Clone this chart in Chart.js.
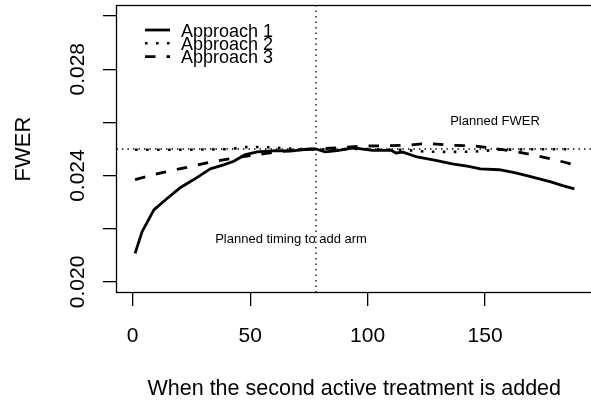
<!DOCTYPE html>
<html>
<head>
<meta charset="utf-8">
<script src="https://cdn.jsdelivr.net/npm/chart.js@4.4.1/dist/chart.umd.min.js"></script>
<style>
  html, body { margin: 0; padding: 0; background: #fff; overflow: hidden; }
  #wrap { width: 600px; height: 404px; }
</style>
</head>
<body>
<div id="wrap"><canvas id="c" width="600" height="404"></canvas></div>
<script>
// ---- data ----
const approach1X = [1, 4, 9, 14, 20, 26, 33, 39, 43, 48, 53, 61, 67, 75, 78, 82, 87, 94, 102, 110, 112, 115, 121, 129, 136, 143, 148, 156, 163, 169, 178, 183, 188];
const approach1Y = [0.02107, 0.02189, 0.02271, 0.02309, 0.02353, 0.02385, 0.02425, 0.02441, 0.02454, 0.02479, 0.02489, 0.02494, 0.02492, 0.02500, 0.02500, 0.02489, 0.02494, 0.02504, 0.02495, 0.02495, 0.02485, 0.02488, 0.02470, 0.02457, 0.02444, 0.02435, 0.02425, 0.02422, 0.02410, 0.02397, 0.02376, 0.02362, 0.02350];

const approach2X = [1, 20, 40, 48, 55, 60, 70, 80, 100, 115, 125, 135, 145, 155, 170, 188];
const approach2Y = [0.02497, 0.02497, 0.02499, 0.02507, 0.02508, 0.02505, 0.02500, 0.02499, 0.02500, 0.02497, 0.02490, 0.02489, 0.02490, 0.02497, 0.02499, 0.02499];

const approach3X = [1, 12, 22, 33, 41, 50, 58, 67, 78, 87, 97, 106, 116, 126, 135, 145, 154, 164, 173, 183, 188];
const approach3Y = [0.02385, 0.02410, 0.02429, 0.02450, 0.02463, 0.02475, 0.02485, 0.02494, 0.02500, 0.02504, 0.02511, 0.02512, 0.02514, 0.02521, 0.02514, 0.02512, 0.02502, 0.02489, 0.02473, 0.02452, 0.02440];

const seriesNames = ['Approach 1', 'Approach 2', 'Approach 3'];

const plannedFWER = 0.025;
const plannedTiming = 78;

const xRange = [-6.9, 195.5];
const yRange = [0.0196, 0.0304];
const xTickValues = [0, 50, 100, 150];
const xTickLabels = ['0', '50', '100', '150'];
const yTickMarks = [0.020, 0.022, 0.024, 0.026, 0.028, 0.030];
const yTickValues = [0.020, 0.024, 0.028];
const yTickLabels = ['0.020', '0.024', '0.028'];

const xTitle = 'When the second active treatment is added';
const yTitle = 'FWER';
const noteFWER = { text: 'Planned FWER', x: 154.2, y: 0.02605 };
const noteTiming = { text: 'Planned timing to add arm', x: 67.4, y: 0.02160 };

// ---- build datasets ----
const pts = (xs, ys) => xs.map((x, i) => ({ x, y: ys[i] }));
const FONT = '"Liberation Sans", Arial, Helvetica, sans-serif';

const datasets = [
  { label: seriesNames[0], data: pts(approach1X, approach1Y), borderColor: '#000', borderWidth: 2.8, borderDash: [], borderCapStyle: 'butt', borderJoinStyle: 'round' },
  { label: seriesNames[1], data: pts(approach2X, approach2Y), borderColor: '#000', borderWidth: 2.6, borderDash: [2.6, 8.4], borderCapStyle: 'butt' },
  { label: seriesNames[2], data: pts(approach3X, approach3Y), borderColor: '#000', borderWidth: 2.8, borderDash: [10.5, 11], borderCapStyle: 'butt' },
  { label: 'hline', data: pts(xRange, [plannedFWER, plannedFWER]), borderColor: '#000', borderWidth: 1.3, borderDash: [1.4, 4.1], borderCapStyle: 'butt' },
  { label: 'vline', data: pts([plannedTiming, plannedTiming], yRange), borderColor: '#000', borderWidth: 1.3, borderDash: [1.4, 4.1], borderCapStyle: 'butt' }
].map(d => Object.assign(d, { pointRadius: 0, tension: 0, fill: false }));

const rPlot = {
  id: 'rPlot',
  afterDraw(chart) {
    const ctx = chart.ctx, a = chart.chartArea;
    const xs = chart.scales.x, ys = chart.scales.y;
    ctx.save();
    // box
    ctx.strokeStyle = '#000'; ctx.lineWidth = 1.3;
    ctx.strokeRect(a.left, a.top, a.right - a.left, a.bottom - a.top);
    ctx.fillStyle = '#000';
    // x tick labels
    ctx.font = '21px ' + FONT;
    ctx.textAlign = 'center'; ctx.textBaseline = 'alphabetic';
    xTickValues.forEach((v, i) => ctx.fillText(xTickLabels[i], xs.getPixelForValue(v), 342));
    // y tick labels rotated
    yTickValues.forEach((v, i) => {
      ctx.save();
      ctx.translate(83.5, ys.getPixelForValue(v));
      ctx.rotate(-Math.PI / 2);
      ctx.fillText(yTickLabels[i], 0, 0);
      ctx.restore();
    });
    // titles
    ctx.font = '21.5px ' + FONT;
    ctx.fillText(xTitle, (a.left + a.right) / 2, 395);
    ctx.save();
    ctx.translate(30, (a.top + a.bottom) / 2);
    ctx.rotate(-Math.PI / 2);
    ctx.font = '22px ' + FONT;
    ctx.fillText(yTitle, 0, 0);
    ctx.restore();
    // annotations
    ctx.font = '13px ' + FONT;
    ctx.textBaseline = 'middle';
    [noteFWER, noteTiming].forEach(n => ctx.fillText(n.text, xs.getPixelForValue(n.x), ys.getPixelForValue(n.y)));
    // legend
    const rows = [30, 43.3, 56.7];
    ctx.textAlign = 'left'; ctx.textBaseline = 'alphabetic';
    ctx.font = '18px ' + FONT;
    [0, 1, 2].forEach(i => {
      const d = chart.data.datasets[i];
      ctx.beginPath();
      ctx.setLineDash(d.borderDash);
      ctx.lineWidth = d.borderWidth;
      ctx.lineCap = 'butt';
      ctx.moveTo(145, rows[i]); ctx.lineTo(170, rows[i]);
      ctx.stroke();
      ctx.setLineDash([]);
      ctx.fillText(d.label, 181, rows[i] + 6.5);
    });
    ctx.restore();
  }
};

new Chart(document.getElementById('c'), {
  type: 'line',
  data: { datasets },
  options: {
    responsive: false,
    animation: false,
    layout: { padding: { left: 0, top: 5.5, right: 8, bottom: 0 } },
    plugins: { legend: { display: false }, tooltip: { enabled: false } },
    scales: {
      x: {
        type: 'linear', min: xRange[0], max: xRange[1],
        ticks: { display: false },
        afterBuildTicks: s => { s.ticks = xTickValues.map(v => ({ value: v })); },
        grid: { display: true, drawOnChartArea: false, drawTicks: true, tickLength: 13.5, color: '#000', lineWidth: 1.3 },
        border: { display: false },
        afterFit: s => { s.height = 111.5; }
      },
      y: {
        type: 'linear', min: yRange[0], max: yRange[1],
        ticks: { display: false },
        afterBuildTicks: s => { s.ticks = yTickMarks.map(v => ({ value: v })); },
        grid: { display: true, drawOnChartArea: false, drawTicks: true, tickLength: 13.5, color: '#000', lineWidth: 1.3 },
        border: { display: false },
        afterFit: s => { s.width = 116.5; }
      }
    }
  },
  plugins: [rPlot]
});
</script>
</body>
</html>
